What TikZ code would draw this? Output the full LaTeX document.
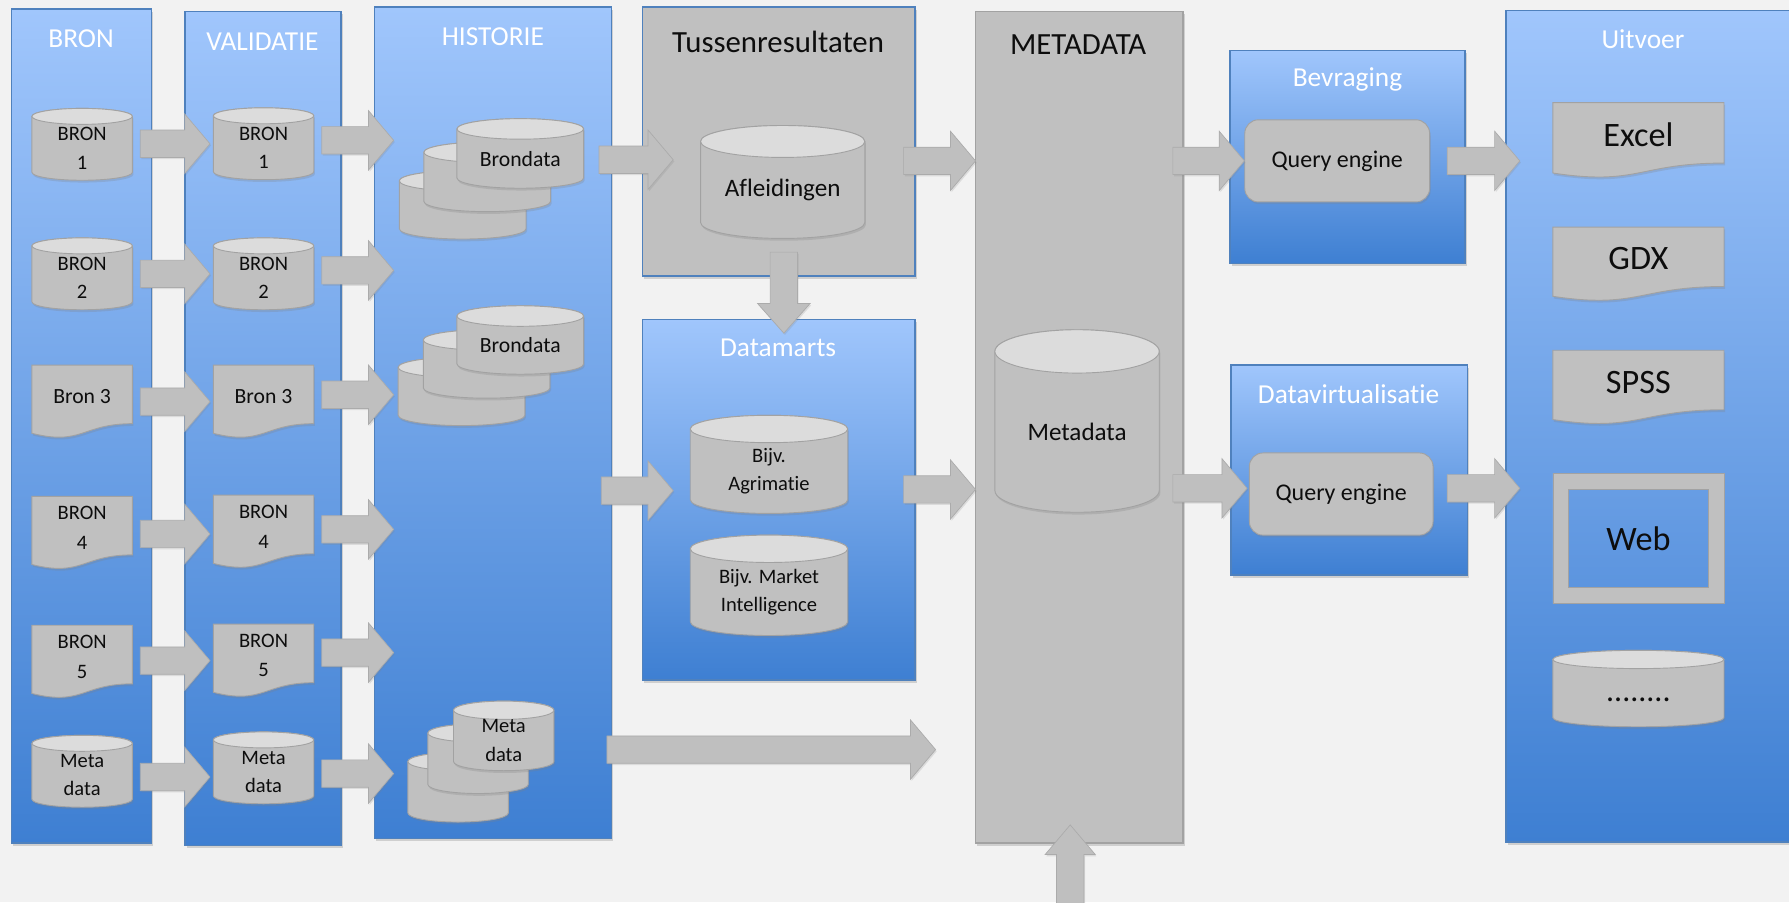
\documentclass[tikz,border=0pt]{standalone}
\usepackage{fontspec}
\setmainfont{Carlito}[Ligatures=NoCommon]
\usetikzlibrary{calc,shadows}
\definecolor{bgc}{HTML}{F2F2F2}
\definecolor{shapegray}{HTML}{C0C0C0}
\definecolor{topgray}{HTML}{DCDCDC}
\definecolor{edgegray}{HTML}{A2A2A2}
\definecolor{arrowgray}{HTML}{BFBFBF}
\definecolor{arrowedge}{HTML}{ABABAB}
\definecolor{bluetop}{RGB}{160,198,252}
\definecolor{bluebot}{RGB}{62,127,210}
\definecolor{blueedge}{HTML}{4F81BD}
\definecolor{txt}{HTML}{0D0D0D}
\tikzset{
  panel/.style={draw=blueedge, line width=1.2pt, top color=bluetop, bottom color=bluebot,
    inner sep=0pt, outer sep=0pt, anchor=north west,
    drop shadow={opacity=0.3, shadow xshift=1.5pt, shadow yshift=-2.5pt}},
  graypanel/.style={draw=#1, line width=1.2pt, fill=shapegray, inner sep=0pt, outer sep=0pt,
    anchor=north west, drop shadow={opacity=0.3, shadow xshift=1.5pt, shadow yshift=-2.5pt}},
  ptitle/.style={text=white, font=\fontsize{24}{28}\selectfont, inner sep=0pt},
  btitle/.style={text=txt, font=\fontsize{27}{32}\selectfont, inner sep=0pt},
  cylbody/.style={fill=shapegray, draw=edgegray, line width=0.8pt,
    drop shadow={opacity=0.25, shadow xshift=1pt, shadow yshift=-2pt}},
  cyltop/.style={fill=topgray, draw=edgegray, line width=0.8pt},
  docbody/.style={fill=shapegray, draw=edgegray, line width=0.8pt,
    drop shadow={opacity=0.25, shadow xshift=1pt, shadow yshift=-2pt}},
  shapebox/.style={inner sep=0pt, outer sep=0pt, draw=none, fill=none},
  shapetext/.style={align=center, text=txt, inner sep=0pt},
  barrow/.style={fill=arrowgray, draw=arrowedge, line width=0.6pt,
    drop shadow={opacity=0.2, shadow xshift=1pt, shadow yshift=-1.5pt}},
  qebox/.style={rounded corners=12pt, fill=shapegray, draw=edgegray, line width=0.8pt,
    text=txt, font=\fontsize{21}{25}\selectfont, inner sep=0pt,
    drop shadow={opacity=0.25, shadow xshift=1pt, shadow yshift=-2pt}},
  webframe/.style={fill=shapegray, even odd rule, draw=edgegray, line width=0.6pt},
}
% cylinder: name, cx, cy, w, h, ry, fontsize, text
\newcommand\cylnode[8]{%
  \pgfmathsetmacro\cxl{#2-#4/2}%
  \pgfmathsetmacro\cxr{#2+#4/2}%
  \pgfmathsetmacro\cyt{#3-#5/2+#6}%
  \pgfmathsetmacro\cyb{#3+#5/2-#6}%
  \pgfmathsetlengthmacro\crx{#4/2}%
  \pgfmathsetmacro\bls{1.38*#7}%
  \path[cylbody] (\cxl,\cyt) -- (\cxl,\cyb)
     arc[start angle=180, end angle=360, x radius=\crx, y radius=#6pt]
     -- (\cxr,\cyt)
     arc[start angle=0, end angle=180, x radius=\crx, y radius=#6pt] -- cycle;
  \path[cyltop] (#2,\cyt) ellipse[x radius=\crx, y radius=#6pt];
  \node[shapebox, minimum width=#4pt, minimum height=#5pt] (#1) at (#2,#3) {};
  \node[shapetext, font=\fontsize{#7}{\bls}\selectfont] (#1-t) at (#2,#3+#6/2) {#8};
}
% document: name, cx, top, w, h, fontsize, text
\newcommand\docnode[7]{%
  \pgfmathsetmacro\dxl{#2-#4/2}%
  \pgfmathsetmacro\dxr{#2+#4/2}%
  \pgfmathsetmacro\dyr{#3+0.802*#5}%
  \pgfmathsetmacro\dyc{#3+1.107*#5}%
  \pgfmathsetmacro\dyl{#3+0.934*#5}%
  \pgfmathsetmacro\bls{1.45*#6}%
  \path[docbody] (\dxl,#3) -- (\dxr,#3) -- (\dxr,\dyr)
     .. controls (#2,\dyr) and (#2,\dyc) .. (\dxl,\dyl) -- cycle;
  \node[shapebox, minimum width=#4pt, minimum height=#5pt] (#1) at (#2,#3+#5/2) {};
  \node[shapetext, font=\fontsize{#6}{\bls}\selectfont] (#1-t) at (#2,#3+0.43*#5) {#7};
}
% horizontal block arrow: x from #1, tip and y from #2
\newcommand\harr[2]{%
  \path[barrow] let \p1=#1, \p2=#2 in
    (\x1,\y2+12pt) -- (\x2-22pt,\y2+12pt) -- (\x2-22pt,\y2+26pt) -- (\x2,\y2)
    -- (\x2-22pt,\y2-26pt) -- (\x2-22pt,\y2-12pt) -- (\x1,\y2-12pt) -- cycle;
}
% downward block arrow
\newcommand\darr[2]{%
  \path[barrow] let \p1=#1, \p2=#2 in
    (\x2-12pt,\y1) -- (\x2-12pt,\y2+26pt) -- (\x2-23pt,\y2+26pt) -- (\x2,\y2)
    -- (\x2+23pt,\y2+26pt) -- (\x2+12pt,\y2+26pt) -- (\x2+12pt,\y1) -- cycle;
}
% upward block arrow
\newcommand\uarr[2]{%
  \path[barrow] let \p1=#1, \p2=#2 in
    (\x2-12pt,\y1) -- (\x2-12pt,\y2-26pt) -- (\x2-22pt,\y2-26pt) -- (\x2,\y2)
    -- (\x2+22pt,\y2-26pt) -- (\x2+12pt,\y2-26pt) -- (\x2+12pt,\y1) -- cycle;
}
\begin{document}
\begin{tikzpicture}[x=1pt,y=-1pt]
\useasboundingbox (0,0) rectangle (1568,791);
\fill[bgc] (0,0) rectangle (1568,791);

% ---------- panels ----------
\node[panel, minimum width=123pt, minimum height=731pt] (bron) at (10,8) {};
\node[panel, minimum width=137pt, minimum height=731pt] (val) at (162,10) {};
\node[panel, minimum width=208pt, minimum height=729pt] (his) at (328,6) {};
\node[graypanel=blueedge, minimum width=239pt, minimum height=236pt] (tus) at (563,6) {};
\node[panel, minimum width=239pt, minimum height=316pt] (dm) at (563,280) {};
\node[graypanel=edgegray, minimum width=182pt, minimum height=729pt] (mp) at (855,10) {};
\node[panel, minimum width=206pt, minimum height=187pt] (bev) at (1078,44) {};
\node[panel, minimum width=207pt, minimum height=184pt] (dv) at (1079,320) {};
\node[panel, minimum width=270pt, minimum height=729pt] (uit) at (1320,9) {};

\node[ptitle] (bron-title) at (71,34) {BRON};
\node[ptitle] (val-title) at (230,36.5) {VALIDATIE};
\node[ptitle] (his-title) at (432,32) {HISTORIE};
\node[btitle] (tus-title) at (682,37) {Tussenresultaten};
\node[ptitle] (dm-title) at (682,305) {Datamarts};
\node[btitle] (mp-title) at (945,39) {METADATA};
\node[ptitle] (bev-title) at (1181,70) {Bevraging};
\node[ptitle] (dv-title) at (1182,345) {Datavirtualisatie};
\node[ptitle] (uit-title) at (1440,34) {Uitvoer};

% ---------- BRON column ----------
\cylnode{b1}{72}{126.5}{88}{63}{7}{18}{BRON\\1}
\cylnode{b2}{72}{240}{88}{63}{7}{18}{BRON\\2}
\docnode{b3}{72}{320}{88}{64}{19}{Bron 3}
\docnode{b4}{72}{435}{88}{64}{18}{BRON\\4}
\docnode{b5}{72}{548}{88}{64}{18}{BRON\\5}
\cylnode{b6}{72}{676}{88}{63}{7}{18}{Meta\\data}

% ---------- VALIDATIE column ----------
\cylnode{v1}{231}{126}{88}{63}{7}{18}{BRON\\1}
\cylnode{v2}{231}{240}{88}{63}{7}{18}{BRON\\2}
\docnode{v3}{231}{320}{88}{64}{19}{Bron 3}
\docnode{v4}{231}{434}{88}{64}{18}{BRON\\4}
\docnode{v5}{231}{547}{88}{64}{18}{BRON\\5}
\cylnode{v6}{231}{673}{88}{63}{7}{18}{Meta\\data}

% ---------- HISTORIE stacks ----------
\cylnode{hs1c}{405.5}{179.5}{111}{60}{9}{19}{}
\cylnode{hs1b}{427}{155}{111}{61}{9}{19}{}
\cylnode{hs1a}{456}{134.5}{111}{61}{9}{19}{Brondata}
\cylnode{hs2c}{404.5}{343}{111}{60}{9}{19}{}
\cylnode{hs2b}{426.5}{319}{111}{60}{9}{19}{}
\cylnode{hs2a}{456}{298}{111}{60}{9}{19}{Brondata}
\cylnode{hs3c}{401.5}{690}{88}{61}{8}{18}{}
\cylnode{hs3b}{419}{665}{88}{61}{8}{18}{}
\cylnode{hs3a}{441.5}{645}{88}{61}{8}{18}{Meta\\data}

% ---------- Tussenresultaten / Datamarts ----------
\cylnode{afl}{686}{159.5}{144}{99}{14}{22}{Afleidingen}
\cylnode{dm1}{674}{407}{138}{86}{12}{18}{Bijv.\\Agrimatie}
\cylnode{dm2}{674}{513}{138}{88}{12}{18}{Bijv. Market\\Intelligence}

% ---------- METADATA ----------
\cylnode{meta}{944}{369}{144}{160}{19}{22}{Metadata}

% ---------- Query engines ----------
\node[qebox, minimum width=162pt, minimum height=72pt] (qe1) at (1172,141) {Query engine};
\node[qebox, minimum width=161pt, minimum height=72pt] (qe2) at (1175.5,433) {Query engine};

% ---------- Uitvoer ----------
\docnode{excel}{1436}{90}{150}{66}{30}{Excel}
\docnode{gdx}{1436}{199}{150}{65}{30}{GDX}
\docnode{spss}{1436}{307}{150}{65}{30}{SPSS}
\path[webframe] (1361,415) rectangle (1511,529) (1375,429) rectangle (1497,515);
\node[shapebox, minimum width=150pt, minimum height=114pt] (web) at (1436,472) {};
\node[shapetext, font=\fontsize{30}{36}\selectfont] (web-t) at (1436,472) {Web};
\cylnode{dots}{1436}{603.5}{150}{67}{8}{28}{\strut........}

% ---------- arrow end coordinates ----------
\coordinate (hin1) at (345,123);
\coordinate (hin2) at (345,237);
\coordinate (hin3) at (345,346);
\coordinate (hin4) at (345,464);
\coordinate (hin5) at (345,572);
\coordinate (hin6) at (345,678);
\coordinate (tin) at (590,140);
\coordinate (dmin) at (590,430);
\coordinate (metin1) at (855,141);
\coordinate (metin2) at (855,429);
\coordinate (metin3) at (820,657);
\coordinate (dvin) at (1093,428);
\coordinate (uin1) at (1332,141);
\coordinate (uin2) at (1332,428);
\coordinate (dmtop) at (687,292);
\coordinate (upsrc) at (938,800);
\coordinate (metbot) at (938,723);

% ---------- arrows ----------
\harr{([xshift=7pt]b1.east)}{([xshift=-3pt]v1.west)}
\harr{([xshift=7pt]b2.east)}{([xshift=-3pt]v2.west)}
\harr{([xshift=7pt]b3.east)}{([xshift=-3pt]v3.west)}
\harr{([xshift=7pt]b4.east)}{([xshift=-3pt,yshift=-2pt]v4.west)}
\harr{([xshift=7pt]b5.east)}{([xshift=-3pt]v5.west)}
\harr{([xshift=7pt]b6.east)}{([xshift=-3pt,yshift=-8pt]v6.west)}

\harr{([xshift=7pt]v1.east)}{(hin1)}
\harr{([xshift=7pt]v2.east)}{(hin2)}
\harr{([xshift=7pt]v3.east)}{(hin3)}
\harr{([xshift=7pt]v4.east)}{(hin4)}
\harr{([xshift=7pt]v5.east)}{(hin5)}
\harr{([xshift=7pt]v6.east)}{(hin6)}

\harr{([xshift=-11pt]his.east)}{(tin)}
\harr{([xshift=-9pt]his.east)}{(dmin)}
\harr{([xshift=-4pt]his.east)}{(metin3)}
\harr{([xshift=-10pt]tus.east)}{(metin1)}
\harr{([xshift=-10pt]dm.east)}{(metin2)}
\harr{([xshift=-9pt]mp.east)}{(qe1.west)}
\harr{([xshift=-9pt]mp.east)}{(dvin)}
\harr{([xshift=15pt]qe1.east)}{(uin1)}
\harr{([xshift=12pt]qe2.east)}{(uin2)}
\darr{([yshift=-12pt]afl.south)}{(dmtop)}
\uarr{(upsrc)}{(metbot)}
\end{tikzpicture}
\end{document}
